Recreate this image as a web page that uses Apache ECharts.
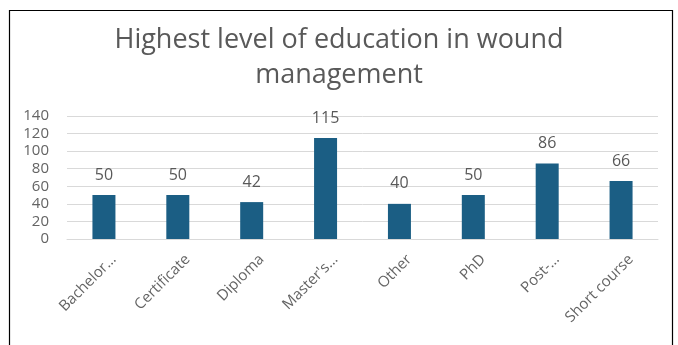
<!DOCTYPE html>
<html>
<head>
<meta charset="utf-8">
<script src="https://cdn.jsdelivr.net/npm/echarts@6/dist/echarts.min.js"></script>
<style>
  html, body { margin: 0; padding: 0; background: #ffffff; }
  #chart { width: 678px; height: 345px; }
</style>
</head>
<body>
<div id="chart"></div>
<script>
// Education levels (x-axis, as shown) and number of respondents per level
const categories = ['Bachelor…', 'Certificate', 'Diploma', "Master's…", 'Other', 'PhD', 'Post-…', 'Short course'];
const counts = [50, 50, 42, 115, 40, 50, 86, 66];
const yTicks = [0, 20, 40, 60, 80, 100, 120, 140];

const chart = echarts.init(document.getElementById('chart'));
const font = '"Open Sans", "Noto Sans", sans-serif';

chart.setOption({
  animation: false,
  backgroundColor: '#ffffff',
  title: {
    text: 'Highest level of education in wound\nmanagement',
    left: 'center',
    top: 18,
    textStyle: {
      fontFamily: font,
      fontSize: 27,
      fontWeight: 'normal',
      color: '#595959',
      lineHeight: 35
    }
  },
  graphic: [{
    type: 'rect',
    shape: { x: 9.5, y: 10.5, width: 663, height: 345 },
    style: { fill: 'none', stroke: '#000000', lineWidth: 1.2 },
    silent: true
  }],
  grid: { left: 67, right: 20, top: 116, bottom: 106 },
  xAxis: {
    type: 'category',
    data: categories,
    axisLine: { lineStyle: { color: '#d9d9d9' } },
    axisTick: { show: false },
    axisLabel: {
      rotate: 45,
      interval: 0,
      margin: 28,
      padding: [0, -14, 0, 0],
      color: '#646464',
      fontFamily: font,
      fontSize: 15
    }
  },
  yAxis: {
    type: 'value',
    min: yTicks[0],
    max: yTicks[yTicks.length - 1],
    interval: yTicks[1] - yTicks[0],
    axisLine: { show: false },
    axisTick: { show: false },
    axisLabel: {
      color: '#646464',
      fontFamily: font,
      fontSize: 15,
      margin: 18
    },
    splitLine: { lineStyle: { color: '#d9d9d9' } }
  },
  series: [{
    type: 'bar',
    data: counts,
    barWidth: 23,
    itemStyle: { color: '#1b5e84' },
    label: {
      show: true,
      position: 'top',
      distance: 12,
      color: '#595959',
      fontFamily: font,
      fontSize: 16
    }
  }]
});
</script>
</body>
</html>
